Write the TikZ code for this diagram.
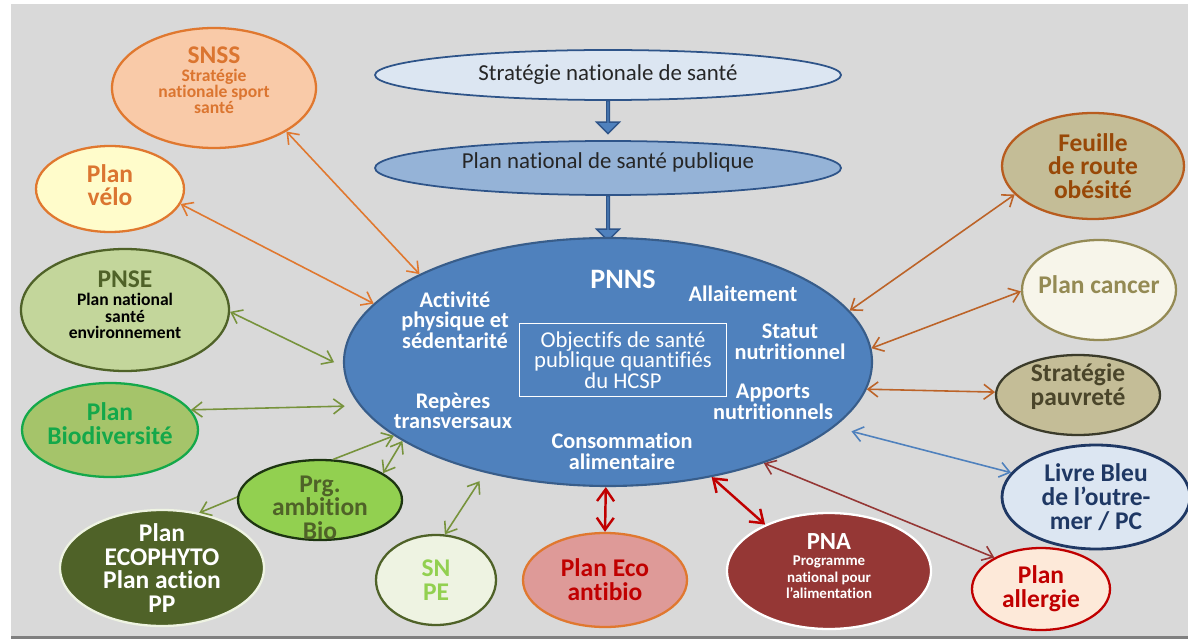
\documentclass[tikz,border=0pt]{standalone}
\usepackage{fontspec}
\setmainfont{Carlito}[Ligatures=NoCommon]
\usetikzlibrary{arrows.meta, shapes.geometric, shapes.arrows}
\setlength{\lineskiplimit}{-20pt}
\definecolor{bggray}{HTML}{D9D9D9}
\definecolor{edgegray}{HTML}{7F7F7F}
\definecolor{darkblue}{HTML}{2E5489}
\definecolor{paleblue}{HTML}{DCE6F2}
\definecolor{midblue}{HTML}{95B3D7}
\definecolor{pnnsblue}{HTML}{4F81BD}
\definecolor{pnnsedge}{HTML}{385D8A}
\definecolor{darktext}{HTML}{262626}
\definecolor{orangeline}{HTML}{E0782F}
\definecolor{orangetext}{HTML}{DB7530}
\definecolor{peach}{HTML}{F9CAA8}
\definecolor{paleyellow}{HTML}{FFFCCB}
\definecolor{olive}{HTML}{4F6228}
\definecolor{olivefill}{HTML}{C3D69B}
\definecolor{greenline}{HTML}{77933C}
\definecolor{brightgreen}{HTML}{14A84A}
\definecolor{biofill}{HTML}{A5C46A}
\definecolor{limegreen}{HTML}{92D050}
\definecolor{darkgreen}{HTML}{1D3511}
\definecolor{palegreen}{HTML}{EEF3E2}
\definecolor{rosefill}{HTML}{DE9A98}
\definecolor{redtext}{HTML}{C00000}
\definecolor{wine}{HTML}{953735}
\definecolor{palerose}{HTML}{FDE9D9}
\definecolor{navy}{HTML}{1F3864}
\definecolor{khaki}{HTML}{C4BD97}
\definecolor{khakiedge}{HTML}{3B3B2A}
\definecolor{khakitext}{HTML}{4A452A}
\definecolor{cream}{HTML}{F7F5EA}
\definecolor{sand}{HTML}{948A54}
\definecolor{rust}{HTML}{B85C1E}
\definecolor{rusttext}{HTML}{984807}
\definecolor{brownline}{HTML}{BC6328}
\tikzset{
  barb/.tip={Straight Barb[length=2mm,width=3mm]},
  bigbarb/.tip={Straight Barb[length=2.4mm,width=3.4mm]},
  bubble/.style={
    ellipse,
    line width=1.3pt,
    inner xsep=-5pt,
    inner ysep=-8pt,
    align=center,
    font=\bfseries\fontsize{14.5}{13.5}\selectfont
  },
  topoval/.style={
    ellipse,
    draw=darkblue,
    line width=1pt,
    inner sep=0pt,
    minimum width=93.2mm,
    font=\fontsize{13}{13}\selectfont,
    text=darktext
  },
  bigarrow/.style={
    single arrow,
    draw=darkblue,
    fill=pnnsblue,
    line width=0.8pt,
    inner sep=0pt,
    minimum width=4.6mm,
    single arrow head extend=1.1mm,
    rotate=-90
  },
  theme/.style={
    text=white,
    align=center,
    font=\bfseries\fontsize{12.7}{11.7}\selectfont
  },
  link/.style={barb-barb, line width=0.9pt},
  orangelink/.style={link, draw=orangeline},
  greenlink/.style={link, draw=greenline},
  redlink/.style={bigbarb-bigbarb, line width=1.4pt, draw=redtext},
  winelink/.style={link, draw=wine},
  bluelink/.style={link, draw=pnnsblue},
  brownlink/.style={link, draw=brownline}
}

\begin{document}
\begin{tikzpicture}[x=0.2mm, y=-0.2mm]
  \useasboundingbox (0,0) rectangle (1188,639);
  \fill[bggray] (11,4) rectangle (1188,636);
  \fill[edgegray] (11,636) rectangle (1188,639);

  % national chain
  \node[topoval, fill=paleblue, minimum height=10mm] (nss) at (608,75)
    {Stratégie nationale de santé};
  \node[topoval, fill=midblue, minimum height=10.8mm, text depth=8pt] (pnsp) at (608,168)
    {Plan national de santé publique};
  \node[bigarrow, minimum height=6.6mm] (down1) at (608,116.5) {};
  \node[bigarrow, minimum height=9mm] (down2) at (608,217.5) {};

  % PNNS and its themes
  \node[ellipse, draw=pnnsedge, fill=pnnsblue, line width=1.2pt, inner sep=0pt,
    minimum width=105.6mm, minimum height=49.6mm] (pnns) at (608,362) {};
  \node[theme, font=\bfseries\fontsize{16}{16}\selectfont] (pnnstitle) at (623,279) {PNNS};
  \node[theme] (activite) at (455,320) {Activité\\physique et\\sédentarité};
  \node[theme] (allaitement) at (743,294) {Allaitement};
  \node[theme] (statut) at (790,342) {Statut\\nutritionnel};
  \node[theme] (apports) at (773,402) {Apports\\nutritionnels};
  \node[theme] (reperes) at (453,411) {Repères\\transversaux};
  \node[theme] (conso) at (622,451) {Consommation\\alimentaire};
  \node[draw=white, line width=0.8pt, text=white, align=center, inner sep=0pt,
    minimum width=41.4mm, minimum height=14.6mm,
    font=\fontsize{12.9}{11.7}\selectfont] (hcsp) at (623,360)
    {Objectifs de santé\\publique quantifiés\\du HCSP};

  % left side
  \node[bubble, draw=orangeline, fill=peach, text=orangetext,
    minimum width=40.8mm, minimum height=24mm, text depth=9pt,
    font=\bfseries\fontsize{10}{9.1}\selectfont] (snss) at (214,88)
    {\fontsize{14.5}{14}\selectfont SNSS\\[1pt]Stratégie\\nationale sport\\santé};
  \node[bubble, draw=orangeline, fill=paleyellow, text=orangetext,
    minimum width=29.6mm, minimum height=17.2mm, text depth=4.5pt] (velo) at (110,189)
    {Plan\\vélo};
  \node[bubble, draw=olive, fill=olivefill, text=black,
    minimum width=41.6mm, minimum height=24.4mm, text depth=6pt,
    font=\bfseries\fontsize{10}{9.4}\selectfont] (pnse) at (125,310)
    {\color{olive}\fontsize{14.5}{14}\selectfont PNSE\\[1pt]Plan national\\santé\\environnement};
  \node[bubble, draw=brightgreen, fill=biofill, text=brightgreen,
    minimum width=35.2mm, minimum height=18.8mm, text depth=7pt] (biodiv) at (110,430)
    {Plan\\Biodiversité};
  \node[bubble, draw=darkgreen, fill=limegreen, text=olive,
    minimum width=32.8mm, minimum height=16mm, text height=45pt] (prgbio) at (320,500)
    {Prg.\\ambition\\Bio};
  \node[bubble, draw=palegreen, fill=olive, text=white,
    minimum width=40.8mm, minimum height=23.2mm] (ecophyto) at (162,568)
    {Plan\\ECOPHYTO\\Plan action\\PP};

  % bottom
  \node[bubble, draw=olive, fill=palegreen, text=limegreen,
    minimum width=24mm, minimum height=18mm] (snpe) at (436,580)
    {SN\\PE};
  \node[bubble, draw=orangeline, fill=rosefill, text=redtext,
    minimum width=32.8mm, minimum height=18.8mm] (ecoantibio) at (605,580)
    {Plan Eco\\antibio};
  \node[bubble, draw=white, fill=wine, text=white,
    minimum width=40.8mm, minimum height=23.2mm, text depth=5.5pt,
    font=\bfseries\fontsize{8.5}{9.4}\selectfont] (pna) at (829,571)
    {\fontsize{14}{14}\selectfont PNA\\Programme\\national pour\\l’alimentation};

  % right side
  \node[bubble, draw=redtext, fill=palerose, text=redtext,
    minimum width=27.6mm, minimum height=16.4mm] (allergie) at (1041,589)
    {Plan\\allergie};
  \node[bubble, draw=navy, fill=paleblue, text=navy, line width=1.6pt,
    minimum width=37.6mm, minimum height=20.8mm] (livrebleu) at (1096,497)
    {Livre Bleu\\de l’outre-\\mer / PC};
  \node[bubble, draw=khakiedge, fill=khaki, text=khakitext,
    minimum width=32.8mm, minimum height=16mm, text depth=11.5pt] (pauvrete) at (1078,395)
    {Stratégie\\pauvreté};
  \node[bubble, draw=sand, fill=cream, text=sand,
    minimum width=30.8mm, minimum height=20mm, text depth=5.7pt] (cancer) at (1099,290)
    {Plan cancer};
  \node[bubble, draw=rust, fill=khaki, text=rusttext,
    minimum width=36.4mm, minimum height=21.2mm] (obesite) at (1093,166)
    {Feuille\\de route\\obésité};

  % links to the PNNS
  \draw[orangelink] (snss.-31) -- (pnns.155);
  \draw[orangelink] (velo.-12) -- (pnns.166);
  \draw[greenlink, shorten >=2mm] (pnse.-1) -- (pnns.181);
  \draw[greenlink, shorten >=3mm] (biodiv.14) -- (pnns.190);
  \draw[greenlink, -barb] (prgbio.72) -- (pnns.199);
  \draw[greenlink] (prgbio.23) -- (pnns.201);
  \draw[greenlink, -barb] (prgbio.178) -- (ecophyto.56);
  \draw[greenlink, shorten >=2mm] (snpe.79) -- (pnns.222);
  \draw[redlink] (ecoantibio.north) -- (pnns.269);
  \draw[redlink] (pna.144) -- (pnns.-48);
  \draw[winelink] (allergie.146) -- (pnns.-33);
  \draw[bluelink, shorten >=3.5mm] (livrebleu.164) -- (pnns.-16);
  \draw[brownlink] (pauvrete.178) -- (pnns.-6);
  \draw[brownlink] (cancer.181) -- (pnns.3);
  \draw[brownlink] (obesite.200) -- (pnns.12);
\end{tikzpicture}
\end{document}
